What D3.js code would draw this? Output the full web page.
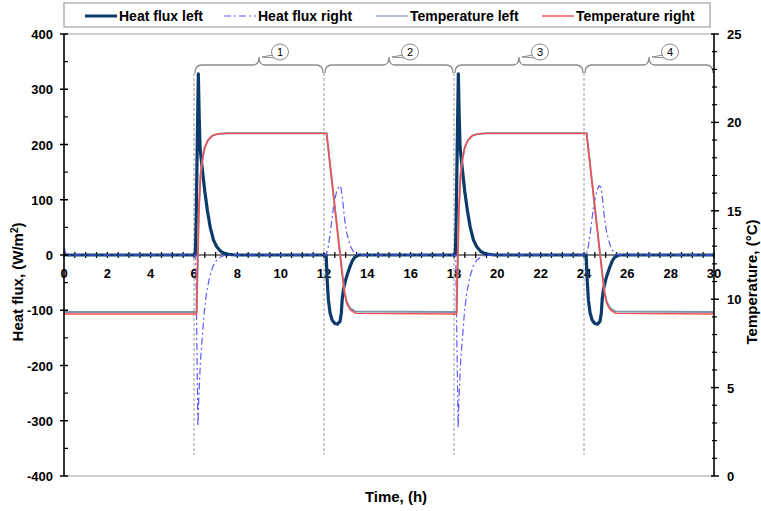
<!DOCTYPE html>
<html>
<head>
<meta charset="utf-8">
<script src="https://cdn.jsdelivr.net/npm/d3@7"></script>
<style>
  html, body { margin: 0; padding: 0; background: #fff; }
  svg { display: block; font-family: "Liberation Sans", Arial, sans-serif; }
  .tick-label { font-size: 13px; font-weight: bold; fill: #000; }
  .axis-title { font-size: 15px; font-weight: bold; fill: #000; }
  .legend-text { font-size: 14px; font-weight: bold; fill: #000; }
</style>
</head>
<body>
<svg id="chart" width="761" height="511"></svg>
<script>
// Heat flux (W/m²) vs time (h) on the left axis, temperature (°C) on the right axis.
// Values.

const heatFluxLeft = [
  [0, 0], [6.06, 0], [6.1, 60], [6.15, 200], [6.2, 328], [6.24, 250], [6.28, 195], [6.33, 175],
  [6.4, 150], [6.5, 115], [6.62, 80], [6.75, 50], [6.9, 27], [7.05, 15], [7.25, 6], [7.5, 1.5], [7.9, 0],
  [12.1, 0], [12.14, -40], [12.2, -80], [12.28, -105], [12.38, -118], [12.5, -124], [12.62, -125],
  [12.74, -120], [12.8, -105], [12.84, -80], [12.9, -62], [13.0, -45], [13.1, -32], [13.2, -21],
  [13.3, -11], [13.42, -4], [13.6, 0],
  [18.06, 0], [18.1, 60], [18.15, 200], [18.2, 328], [18.24, 252], [18.28, 196], [18.33, 176],
  [18.4, 150], [18.5, 114], [18.62, 80], [18.75, 50], [18.9, 27], [19.05, 15], [19.25, 6], [19.5, 1.5], [19.9, 0],
  [24.1, 0], [24.14, -40], [24.2, -80], [24.28, -105], [24.38, -118], [24.5, -124], [24.62, -125],
  [24.74, -120], [24.8, -105], [24.84, -80], [24.9, -62], [25.0, -45], [25.1, -32], [25.2, -21],
  [25.3, -11], [25.42, -4], [25.6, 0], [30, 0]
];

const heatFluxRight = [
  [0, 14], [0.08, 3], [0.15, 0], [6.08, 0], [6.12, -120], [6.18, -310], [6.23, -250], [6.3, -190],
  [6.38, -150], [6.48, -100], [6.58, -68], [6.72, -40], [6.88, -20], [7.05, -9], [7.3, -2], [7.6, 0],
  [12.1, 0], [12.2, 15], [12.32, 50], [12.45, 90], [12.58, 115], [12.7, 125], [12.78, 123],
  [12.86, 100], [12.95, 65], [13.05, 40], [13.2, 18], [13.35, 6], [13.55, 1], [13.8, 0],
  [18.08, 0], [18.12, -120], [18.19, -313], [18.24, -250], [18.31, -190], [18.39, -150],
  [18.49, -100], [18.59, -68], [18.73, -40], [18.89, -20], [19.05, -9], [19.3, -2], [19.6, 0],
  [24.1, 0], [24.2, 15], [24.32, 50], [24.45, 90], [24.58, 115], [24.7, 125], [24.78, 123],
  [24.86, 100], [24.95, 65], [25.05, 40], [25.2, 18], [25.35, 6], [25.55, 1], [25.8, 0], [30, 0]
];

const temperatureLeft = [
  [0, 9.28], [6.12, 9.28], [6.16, 11.6], [6.22, 14.9], [6.3, 17.0], [6.4, 18.0], [6.5, 18.6],
  [6.65, 19.0], [6.85, 19.25], [7.1, 19.35], [7.5, 19.38], [12.12, 19.38], [12.3, 17.4], [12.5, 15.2],
  [12.7, 13.0], [12.85, 11.4], [12.95, 10.4], [13.05, 9.85], [13.2, 9.5], [13.45, 9.3],
  [18.12, 9.28], [18.16, 11.6], [18.22, 14.9], [18.3, 17.0], [18.4, 18.0], [18.5, 18.6],
  [18.65, 19.0], [18.85, 19.25], [19.1, 19.35], [19.5, 19.38], [24.12, 19.38], [24.3, 17.4], [24.5, 15.2],
  [24.7, 13.0], [24.85, 11.4], [24.95, 10.4], [25.05, 9.85], [25.2, 9.5], [25.45, 9.3], [30, 9.28]
];

const temperatureRight = [
  [0, 9.16], [6.12, 9.16], [6.16, 11.5], [6.22, 14.8], [6.3, 17.0], [6.4, 18.0], [6.5, 18.6],
  [6.65, 19.0], [6.85, 19.25], [7.1, 19.35], [7.5, 19.38], [12.12, 19.38], [12.3, 17.4], [12.5, 15.2],
  [12.7, 13.0], [12.85, 11.3], [12.95, 10.3], [13.05, 9.75], [13.2, 9.4], [13.45, 9.2],
  [18.12, 9.16], [18.16, 11.5], [18.22, 14.8], [18.3, 17.0], [18.4, 18.0], [18.5, 18.6],
  [18.65, 19.0], [18.85, 19.25], [19.1, 19.35], [19.5, 19.38], [24.12, 19.38], [24.3, 17.4], [24.5, 15.2],
  [24.7, 13.0], [24.85, 11.3], [24.95, 10.3], [25.05, 9.75], [25.2, 9.4], [25.45, 9.2], [30, 9.16]
];

const phaseBounds = [6, 12, 18, 24, 30];
const phaseLabels = ['1', '2', '3', '4'];
const timeTicks = d3.range(0, 31, 2);
const fluxTicks = d3.range(-400, 401, 100);
const tempTicks = d3.range(0, 26, 5);

const legendItems = [
  { name: 'Heat flux left', color: '#0c3a6b', width: 3, dash: null },
  { name: 'Heat flux right', color: '#5a5aff', width: 1.2, dash: '7,3,2,3' },
  { name: 'Temperature left', color: '#b3c0d0', width: 2, dash: null },
  { name: 'Temperature right', color: '#ff4a4a', width: 1.4, dash: null }
];

const svg = d3.select('#chart');
const L = 64, R = 714, T = 34, B = 476;

const x = d3.scaleLinear().domain([0, 30]).range([L, R]);
const yFlux = d3.scaleLinear().domain([-400, 400]).range([B, T]);
const yTemp = d3.scaleLinear().domain([0, 25]).range([B, T]);

// plot area frame
svg.append('rect')
  .attr('x', L).attr('y', T).attr('width', R - L).attr('height', B - T)
  .attr('fill', 'none').attr('stroke', '#cfcfcf').attr('stroke-width', 2);

// phase separators
svg.append('g').selectAll('line').data(phaseBounds.slice(0, 4)).join('line')
  .attr('x1', d => x(d)).attr('x2', d => x(d))
  .attr('y1', 73).attr('y2', 455)
  .attr('stroke', '#9a9a9a').attr('stroke-width', 1).attr('stroke-dasharray', '3,2');

// curly braces + numbered callouts
const braces = svg.append('g');
for (let i = 0; i < 4; i++) {
  const x1 = x(phaseBounds[i]) + 1, x2 = x(phaseBounds[i + 1]) - 1, m = (x1 + x2) / 2;
  const yb = 65;
  braces.append('path')
    .attr('d', `M${x1},73 Q${x1},${yb} ${x1 + 7},${yb} L${m - 6},${yb} Q${m},${yb} ${m},57 Q${m},${yb} ${m + 6},${yb} L${x2 - 7},${yb} Q${x2},${yb} ${x2},73`)
    .attr('fill', 'none').attr('stroke', '#8a8a8a').attr('stroke-width', 1.3);
  const cx = m + 21, cy = 52;
  braces.append('path')
    .attr('d', `M${cx - 7},${cy + 3} L${m + 3},57 L${cx - 4},${cy + 6}`)
    .attr('fill', '#fff').attr('stroke', '#8a8a8a').attr('stroke-width', 1);
  braces.append('ellipse')
    .attr('cx', cx).attr('cy', cy).attr('rx', 8.5).attr('ry', 8)
    .attr('fill', '#fff').attr('stroke', '#8a8a8a').attr('stroke-width', 1);
  braces.append('text')
    .attr('x', cx).attr('y', cy + 4).attr('text-anchor', 'middle')
    .style('font-size', '11px').style('fill', '#000')
    .text(phaseLabels[i]);
}

const lineFlux = d3.line().x(d => x(d[0])).y(d => yFlux(d[1]));
const lineTemp = d3.line().x(d => x(d[0])).y(d => yTemp(d[1]));

// x-axis along flux = 0
const xAxis = svg.append('g');
xAxis.append('line').attr('x1', L).attr('x2', R).attr('y1', yFlux(0)).attr('y2', yFlux(0))
  .attr('stroke', '#000').attr('stroke-width', 1.2);
xAxis.selectAll('line.tk').data(d3.range(0, 30.01, 0.5)).join('line').attr('class', 'tk')
  .attr('x1', d => x(d)).attr('x2', d => x(d))
  .attr('y1', yFlux(0) - 3).attr('y2', yFlux(0) + 3)
  .attr('stroke', '#000').attr('stroke-width', 1.2);

// series
const series = svg.append('g');
series.append('path').datum(heatFluxLeft).attr('d', lineFlux)
  .attr('fill', 'none').attr('stroke', legendItems[0].color).attr('stroke-width', 3.2)
  .attr('stroke-linejoin', 'round');
series.append('path').datum(heatFluxRight).attr('d', lineFlux)
  .attr('fill', 'none').attr('stroke', legendItems[1].color).attr('stroke-width', 1.2)
  .attr('stroke-dasharray', legendItems[1].dash);
series.append('path').datum(temperatureLeft).attr('d', lineTemp)
  .attr('fill', 'none').attr('stroke', '#7d92ac').attr('stroke-width', 2);
series.append('path').datum(temperatureRight).attr('d', lineTemp)
  .attr('fill', 'none').attr('stroke', legendItems[3].color).attr('stroke-width', 1.4);

xAxis.selectAll('text').data(timeTicks).join('text')
  .attr('class', 'tick-label')
  .attr('x', d => x(d)).attr('y', yFlux(0) + 23)
  .attr('text-anchor', 'middle')
  .text(d => d);

// left axis
const yl = svg.append('g');
yl.append('line').attr('x1', L).attr('x2', L).attr('y1', T).attr('y2', B)
  .attr('stroke', '#000').attr('stroke-width', 1.5);
yl.selectAll('line.mj').data(fluxTicks).join('line').attr('class', 'mj')
  .attr('x1', L - 4).attr('x2', L + 4).attr('y1', d => yFlux(d)).attr('y2', d => yFlux(d))
  .attr('stroke', '#000').attr('stroke-width', 1.5);
yl.selectAll('line.mn').data(d3.range(-350, 400, 100)).join('line').attr('class', 'mn')
  .attr('x1', L).attr('x2', L + 4).attr('y1', d => yFlux(d)).attr('y2', d => yFlux(d))
  .attr('stroke', '#000').attr('stroke-width', 1.2);
yl.selectAll('text').data(fluxTicks).join('text').attr('class', 'tick-label')
  .attr('x', 53).attr('y', d => yFlux(d) + 5).attr('text-anchor', 'end')
  .text(d => d);

// right axis
const yr = svg.append('g');
yr.append('line').attr('x1', R).attr('x2', R).attr('y1', T).attr('y2', B)
  .attr('stroke', '#000').attr('stroke-width', 1.5);
yr.selectAll('line.mj').data(tempTicks).join('line').attr('class', 'mj')
  .attr('x1', R - 3).attr('x2', R + 5).attr('y1', d => yTemp(d)).attr('y2', d => yTemp(d))
  .attr('stroke', '#000').attr('stroke-width', 1.5);
yr.selectAll('line.mn').data(d3.range(1, 25, 1).filter(d => d % 5)).join('line').attr('class', 'mn')
  .attr('x1', R - 2).attr('x2', R + 3).attr('y1', d => yTemp(d)).attr('y2', d => yTemp(d))
  .attr('stroke', '#000').attr('stroke-width', 1.2);
yr.selectAll('text').data(tempTicks).join('text').attr('class', 'tick-label')
  .attr('x', 727).attr('y', d => yTemp(d) + 5).attr('text-anchor', 'start')
  .text(d => d);

// axis titles
svg.append('text').attr('class', 'axis-title')
  .attr('transform', 'translate(23,282) rotate(-90)').attr('text-anchor', 'middle')
  .html('Heat flux, (W/m<tspan dy="-5" font-size="10">2</tspan><tspan dy="5">)</tspan>');
svg.append('text').attr('class', 'axis-title')
  .attr('transform', 'translate(757,282) rotate(-90)').attr('text-anchor', 'middle')
  .text('Temperature, (°C)');
svg.append('text').attr('class', 'axis-title')
  .attr('x', 396).attr('y', 502).attr('text-anchor', 'middle')
  .text('Time, (h)');

// legend
const lg = svg.append('g');
lg.append('rect').attr('x', 64).attr('y', 3).attr('width', 646).attr('height', 24)
  .attr('fill', '#fff').attr('stroke', '#8c8c8c').attr('stroke-width', 1);
const legendX = [85, 224, 376, 542];
legendItems.forEach((it, i) => {
  lg.append('line').attr('x1', legendX[i]).attr('x2', legendX[i] + 32).attr('y1', 16).attr('y2', 16)
    .attr('stroke', it.color).attr('stroke-width', it.width)
    .attr('stroke-dasharray', it.dash);
  lg.append('text').attr('class', 'legend-text')
    .attr('x', legendX[i] + 34).attr('y', 21).text(it.name);
});
</script>
</body>
</html>
